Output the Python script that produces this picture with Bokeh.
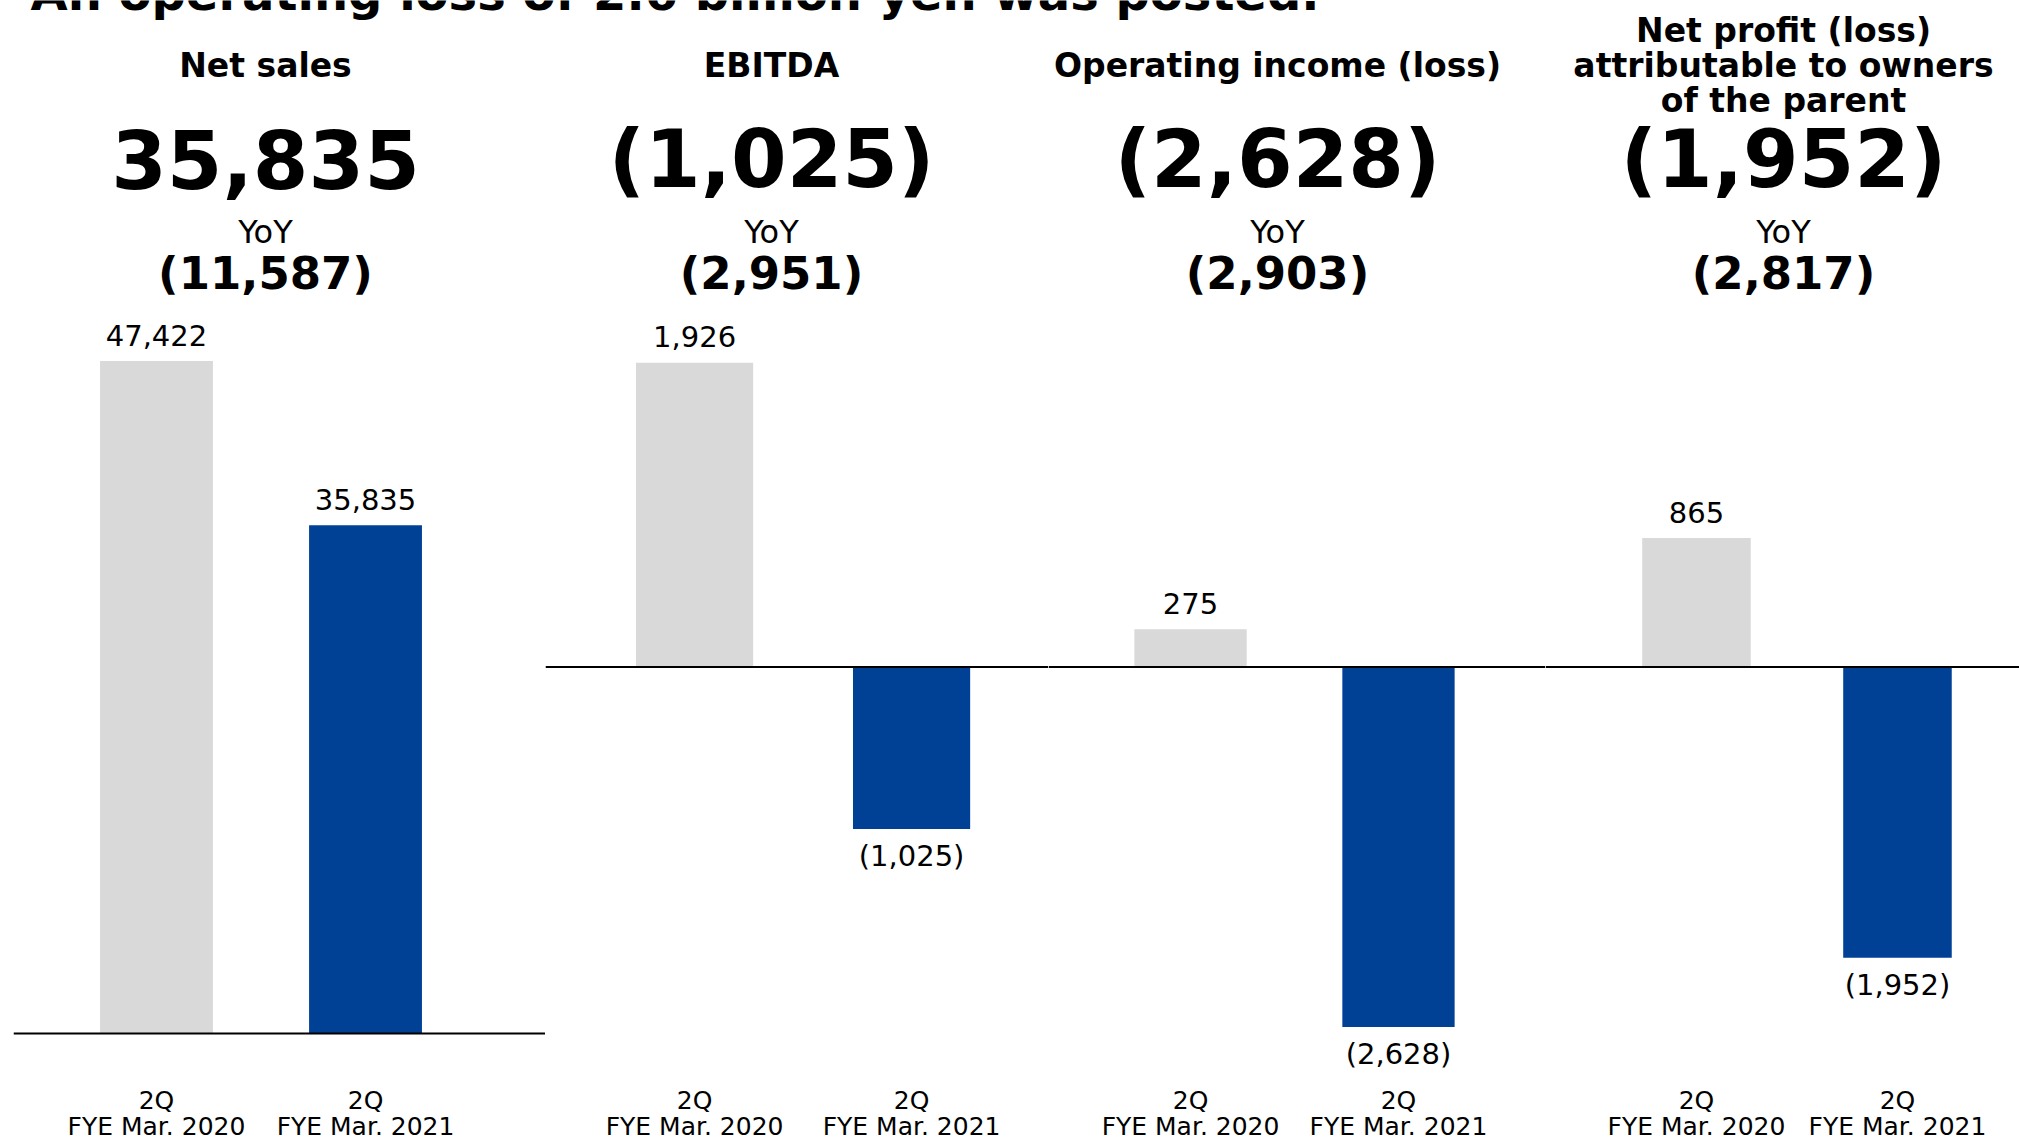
from bokeh.plotting import figure
from bokeh.layouts import row, column
from bokeh.models import Range1d, Label, Span, ColumnDataSource, Spacer
from bokeh.embed import file_html
from bokeh.resources import INLINE
from bokeh.core.properties import value

# ---------------- data ----------------
headline = "An operating loss of 2.6 billion yen was posted."
metrics = ["Net sales", "EBITDA", "Operating income (loss)",
           "Net profit (loss)\nattributable to owners\nof the parent"]
period_line1 = ["2Q", "2Q"]
period_line2 = ["FYE Mar. 2020", "FYE Mar. 2021"]
fy2020 = [47422, 1926, 275, 865]
fy2021 = [35835, -1025, -2628, -1952]
yoy = [-11587, -2951, -2903, -2817]

# ---------------- style / layout ----------------
FONT = "DejaVu Sans"
GRAY = "#D9D9D9"
BLUE = "#004196"
PAGE_H = 1140
TOP_H = 20
FIG_H = PAGE_H
BAR_W = 0.54
SHIFT = 0.41  # empirical baseline correction (em)

# per-panel: page left edge, width, x-range, zero-line page y, px per unit
PANELS = [
    dict(left=13, width=532, xr=(-0.684, 1.861), zero=1033.0, k=0.01418, head_x=265),
    dict(left=545, width=503, xr=(-0.687, 1.631), zero=666.5, k=0.158, head_x=771),
    dict(left=1048, width=497, xr=(-0.683, 1.707), zero=666.5, k=0.137, head_x=1277),
    dict(left=1545, width=474, xr=(-0.751, 1.607), zero=666.5, k=0.149, head_x=1783),
]


def fmt(v):
    s = f"{abs(v):,}"
    return f"({s})" if v < 0 else s


def slabel(p, text, x, page_y, size, bold=False, align="center", x_units="screen",
           bottom=PAGE_H):
    req = page_y - SHIFT * size
    p.add_layout(Label(x=x, y=bottom - req, x_units=x_units, y_units="screen",
                       text=text, text_font=FONT, text_font_size=f"{size}px",
                       text_font_style="bold" if bold else "normal",
                       text_color="black", text_align=align,
                       text_baseline="alphabetic"))


# title strip (headline is cut off at the top of the page)
tfig = figure(width=2019, height=TOP_H, output_backend="svg", toolbar_location=None,
              x_axis_location=None, y_axis_location=None, min_border=0,
              outline_line_color=None, x_range=Range1d(0, 1), y_range=Range1d(0, 1))
tfig.grid.visible = False
slabel(tfig, headline, 30, 12, 48, bold=True, align="left", bottom=TOP_H)

figs = []
for i, cfg in enumerate(PANELS):
    k = cfg["k"]
    y_end = cfg["zero"] / k
    y_start = y_end - FIG_H / k
    p = figure(width=cfg["width"], height=FIG_H, output_backend="svg",
               toolbar_location=None, x_axis_location=None, y_axis_location=None,
               min_border=0, outline_line_color=None,
               background_fill_color=None, border_fill_color=None,
               x_range=Range1d(*cfg["xr"]), y_range=Range1d(y_start, y_end))
    p.grid.visible = False

    xs = list(range(len(period_line1)))
    tops = [fy2020[i], fy2021[i]]
    src = ColumnDataSource(dict(x=xs, top=tops, color=[GRAY, BLUE]))
    p.vbar(x="x", top="top", width=BAR_W, fill_color="color", line_color=None, source=src)

    pos = [j for j in xs if tops[j] >= 0]
    neg = [j for j in xs if tops[j] < 0]
    if pos:
        p.text(x=[xs[j] for j in pos], y=[tops[j] for j in pos],
               text=[fmt(tops[j]) for j in pos], y_offset=-26,
               text_font=value(FONT), text_font_size="29px", text_align="center",
               text_baseline="alphabetic", text_color="black")
    if neg:
        p.text(x=[xs[j] for j in neg], y=[tops[j] for j in neg],
               text=[fmt(tops[j]) for j in neg], y_offset=27,
               text_font=value(FONT), text_font_size="29px", text_align="center",
               text_baseline="alphabetic", text_color="black")

    p.add_layout(Span(location=0, dimension="width", line_color="black", line_width=2))

    # category labels
    for j in xs:
        slabel(p, period_line1[j], xs[j], 1110, 25, x_units="data")
        slabel(p, period_line2[j], xs[j], 1136, 25, x_units="data")

    # headings
    hx = cfg["head_x"] - cfg["left"]
    lines = metrics[i].split("\n")
    mid = (len(lines) - 1) / 2
    for li, t in enumerate(lines):
        slabel(p, t, hx, 78.5 + (li - mid) * 35, 33, bold=True)
    slabel(p, fmt(fy2021[i]), hx, 192, 80, bold=True)
    slabel(p, "YoY", hx, 245, 32)
    slabel(p, fmt(yoy[i]), hx, 291, 45, bold=True)
    figs.append(p)

panels = row(Spacer(width=13, height=FIG_H), *figs,
             styles={"margin-top": f"-{TOP_H}px"})
layout = column(tfig, panels)

with open("out.html", "w") as f:
    f.write(file_html(layout, INLINE))
